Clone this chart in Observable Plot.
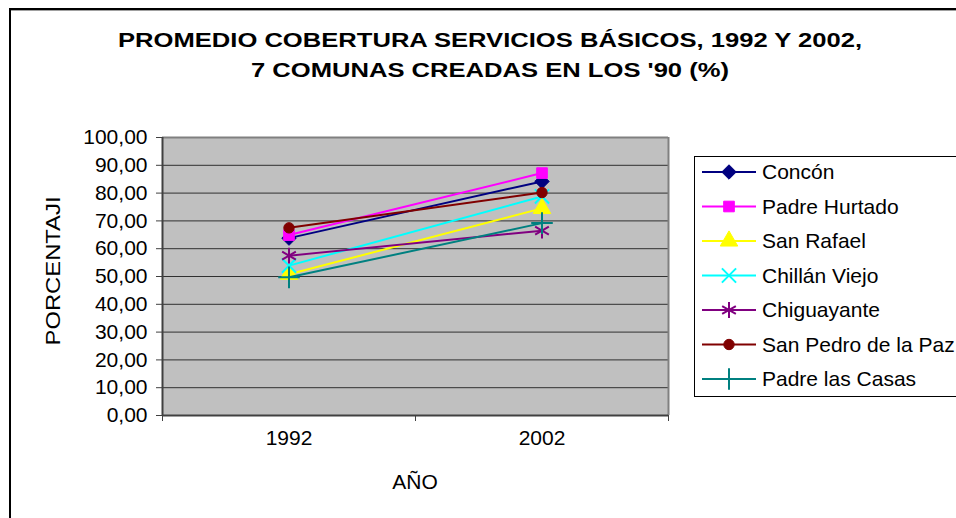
<!DOCTYPE html>
<html><head><meta charset="utf-8">
<script src="https://cdn.jsdelivr.net/npm/d3@7"></script>
<script src="https://cdn.jsdelivr.net/npm/@observablehq/plot@0.6"></script>
<style>
body{margin:0;background:#fff}
#chart{width:956px;height:518px;overflow:hidden;position:relative}
</style>
</head><body><div id="chart"></div>
<script>
// ---- data ----
const years = [1992, 2002];
const seriesNames = ["Concón", "Padre Hurtado", "San Rafael", "Chillán Viejo", "Chiguayante", "San Pedro de la Paz", "Padre las Casas"];
const concon = [63.8, 84.2];
const padreHurtado = [64.9, 87.2];
const sanRafael = [50.8, 74.5];
const chillanViejo = [53.9, 78.8];
const chiguayante = [57.5, 66.5];
const sanPedroDeLaPaz = [67.5, 80.2];
const padreLasCasas = [49.7, 69.2];
const yTicks = [0, 10, 20, 30, 40, 50, 60, 70, 80, 90, 100];
const titleLines = ["PROMEDIO COBERTURA SERVICIOS BÁSICOS, 1992 Y 2002,", "7 COMUNAS CREADAS EN LOS '90 (%)"];
const xLabel = "AÑO";
const yLabel = "PORCENTAJI";
const seriesColors = ["#000080", "#FF00FF", "#FFFF00", "#00FFFF", "#800080", "#800000", "#008080"];
const seriesSymbols = ["diamond2", "square", "triangle", "times", "asterisk", "circle", "plus"];

// ---- build ----
const seriesValues = [concon, padreHurtado, sanRafael, chillanViejo, chiguayante, sanPedroDeLaPaz, padreLasCasas];
const rows = seriesNames.flatMap((name, i) => years.map((year, j) => ({name, year, value: seriesValues[i][j]})));
const strokeSyms = new Set(["times", "asterisk", "plus"]);
const symR = {diamond2: 6.5, square: 6, triangle: 6.5, times: 6.5, asterisk: 7.5, circle: 5.2, plus: 7};
const FONT = "'Liberation Sans', Arial, Helvetica, sans-serif";

const W = 956, H = 518;
const mL = 162, mR = 956 - 668, mT = 137, mB = 518 - 415;

const seriesMarks = seriesNames.flatMap((name, i) => {
  const data = rows.filter(d => d.name === name);
  const sym = seriesSymbols[i];
  const isStroke = strokeSyms.has(sym);
  return [
    Plot.line(data, {x: "year", y: "value", stroke: seriesColors[i], strokeWidth: 2}),
    Plot.dot(data, {x: "year", y: "value", symbol: () => sym, r: symR[sym],
      fill: isStroke ? "none" : seriesColors[i], stroke: seriesColors[i], strokeWidth: isStroke ? 2 : 1})
  ];
});

const chart = Plot.plot({
  width: W, height: H,
  marginLeft: mL, marginRight: mR, marginTop: mT, marginBottom: mB,
  style: {fontFamily: FONT, fontSize: "21px", color: "#000", background: "transparent", overflow: "visible"},
  x: {type: "linear", domain: [1987, 2007], nice: false},
  y: {domain: [0, 100], nice: false},
  symbol: {type: "identity"},
  marks: [
    Plot.frame({fill: "#c0c0c0", stroke: null}),
    Plot.ruleY(yTicks.filter(d => d > 0 && d < 100), {stroke: "#303030", strokeWidth: 1}),
    Plot.ruleY([100], {stroke: "#808080", strokeWidth: 2}),
    Plot.ruleX([2007], {stroke: "#808080", strokeWidth: 2}),
    Plot.ruleX([1987], {stroke: "#404040", strokeWidth: 2}),
    Plot.ruleY([0], {stroke: "#404040", strokeWidth: 2}),
    Plot.axisY({ticks: yTicks, tickSize: 6, tickPadding: 9, label: null,
      tickFormat: d => d.toFixed(2).replace(".", ","), stroke: "#404040", fill: "#000"}),
    Plot.axisX({ticks: [1987, 1997, 2007], tickSize: 6, tickFormat: () => "", label: null, stroke: "#404040"}),
    Plot.axisX({ticks: years, tickSize: 0, tickPadding: 15, tickFormat: d => String(d), label: null, fill: "#000"}),
    ...seriesMarks
  ]
});
document.getElementById("chart").appendChild(chart);

// ---- decorations: border, title, axis titles, legend ----
const svg = d3.select(chart);
svg.insert("rect", ":first-child").attr("x", 0).attr("y", 0).attr("width", W).attr("height", H).attr("fill", "#fff");
svg.append("rect").attr("x", 10).attr("y", 9).attr("width", 980).attr("height", 540)
  .attr("fill", "none").attr("stroke", "#000").attr("stroke-width", 2);
svg.append("line").attr("x1", 11).attr("x2", 956).attr("y1", 10.5).attr("y2", 10.5).attr("stroke", "#a0a0a0").attr("stroke-width", 1);

const titleBase = [47, 77];
const titleLen = [744, 478];
titleLines.forEach((t, i) => {
  svg.append("text").attr("x", 490).attr("y", titleBase[i]).attr("text-anchor", "middle")
    .attr("font-family", FONT).attr("font-weight", "bold").attr("font-size", 20)
    .attr("textLength", titleLen[i]).attr("lengthAdjust", "spacingAndGlyphs")
    .attr("fill", "#000").text(t);
});

svg.append("text").attr("transform", "translate(60,271) rotate(-90)").attr("text-anchor", "middle")
  .attr("font-family", FONT).attr("font-size", 20).attr("textLength", 149).attr("lengthAdjust", "spacingAndGlyphs")
  .attr("fill", "#000").text(yLabel);

svg.append("text").attr("x", 415).attr("y", 489).attr("text-anchor", "middle")
  .attr("font-family", FONT).attr("font-size", 21).attr("fill", "#000").text(xLabel);

const lg = svg.append("g");
lg.append("rect").attr("x", 694.5).attr("y", 156.5).attr("width", 300).attr("height", 240)
  .attr("fill", "#fff").attr("stroke", "#000").attr("stroke-width", 1);
const d3Sym = {diamond2: d3.symbolDiamond2, square: d3.symbolSquare, triangle: d3.symbolTriangle,
  times: d3.symbolTimes, asterisk: d3.symbolAsterisk, circle: d3.symbolCircle, plus: d3.symbolPlus};
seriesNames.forEach((name, i) => {
  const cy = 172 + i * 34.5;
  const sym = seriesSymbols[i];
  const isStroke = strokeSyms.has(sym);
  lg.append("line").attr("x1", 702).attr("x2", 756).attr("y1", cy).attr("y2", cy)
    .attr("stroke", seriesColors[i]).attr("stroke-width", 2);
  lg.append("path").attr("transform", `translate(729,${cy})`)
    .attr("d", d3.symbol().type(d3Sym[sym]).size(Math.PI * symR[sym] * symR[sym])())
    .attr("fill", isStroke ? "none" : seriesColors[i]).attr("stroke", seriesColors[i])
    .attr("stroke-width", isStroke ? 2 : 1);
  lg.append("text").attr("x", 762).attr("y", cy + 7).attr("text-anchor", "start")
    .attr("font-family", FONT).attr("font-size", 21)
    .attr("fill", "#000").text(name);
});
</script>
</body></html>
